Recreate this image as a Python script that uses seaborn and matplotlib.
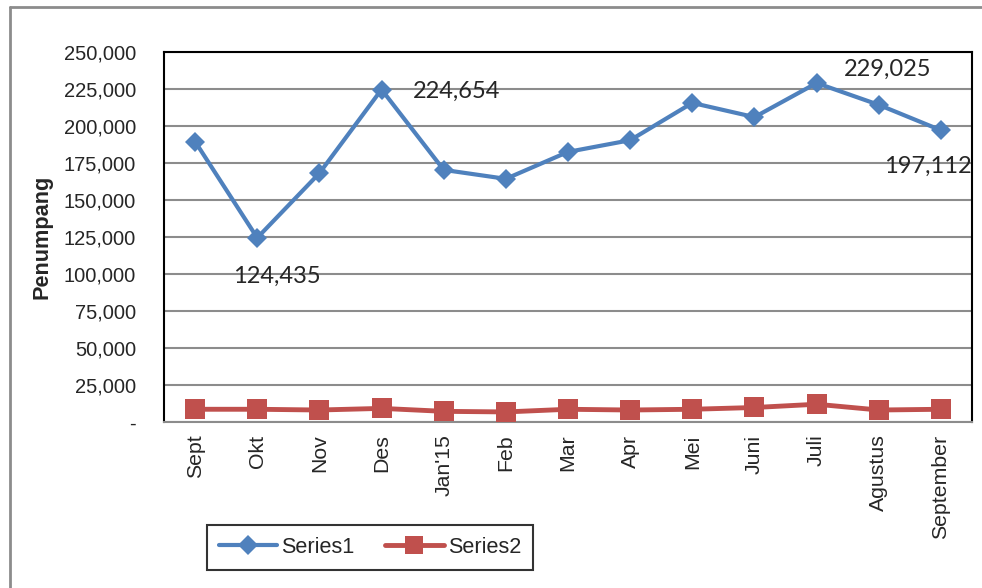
import numpy as np
import pandas as pd
import seaborn as sns
import matplotlib.pyplot as plt
from matplotlib.lines import Line2D
from matplotlib.ticker import FuncFormatter

# data
months = ["Sept", "Okt", "Nov", "Des", "Jan'15", "Feb", "Mar", "Apr",
          "Mei", "Juni", "Juli", "Agustus", "September"]
series1 = [189500, 124435, 168100, 224654, 170350, 164300, 182500,
           190400, 215600, 206000, 229025, 214300, 197112]
series2 = [8600, 8600, 8100, 9200, 7200, 6800, 8600, 8100, 8600,
           9800, 12000, 8100, 8600]
labelled = {"Okt": (20, -39, "center"), "Des": (31, -2, "left"),
            "Juli": (71, 14, "center"), "September": (-13, -36, "center")}

blue = "#4F81BD"
red = "#C0504D"

sns.set_style("white")
plt.rcParams["font.family"] = ["Liberation Sans", "DejaVu Sans"]

df = pd.DataFrame({"pos": np.arange(len(months)), "Bulan": months,
                   "Series1": series1, "Series2": series2})

fig = plt.figure(figsize=(9.82, 5.88), dpi=100)
ax = fig.add_axes([164 / 982, 1 - 422 / 588, 808 / 982, 370 / 588])

sns.lineplot(data=df, x="pos", y="Series1", ax=ax, color=blue, lw=3,
             marker="D", markersize=10, markeredgewidth=0, zorder=4)
sns.lineplot(data=df, x="pos", y="Series2", ax=ax, color=red, lw=3.5,
             marker="s", markersize=15, markeredgewidth=0, zorder=4)

ax.set_xlim(-0.5, len(months) - 0.5)
ax.set_ylim(0, 250000)
ax.set_yticks(np.arange(0, 250001, 25000))
ax.yaxis.set_major_formatter(FuncFormatter(lambda v, p: "-" if v == 0 else f"{int(v):,}"))
ax.tick_params(axis="y", length=0, pad=20, labelsize=14.5)
ax.grid(axis="y", color="#8c8c8c", lw=1.5)
ax.set_axisbelow(True)

# ticks between categories, labels in the middle
ax.set_xticks(np.arange(-0.5, len(months), 1.0))
ax.set_xticklabels([])
ax.set_xticks(np.arange(len(months)), minor=True)
ax.set_xticklabels(months, minor=True, rotation=90, fontsize=15.3)
ax.tick_params(axis="x", which="major", length=7, width=1.5, color="#8c8c8c", direction="out")
ax.tick_params(axis="x", which="minor", length=0, pad=9)

for side in ["left", "top", "right"]:
    ax.spines[side].set_color("black")
    ax.spines[side].set_linewidth(1.5)
ax.spines["bottom"].set_color("#8c8c8c")
ax.spines["bottom"].set_linewidth(1.5)

ax.set_xlabel("")
ax.set_ylabel("Penumpang", fontsize=15.6, fontweight="bold", labelpad=8)

for i, m in enumerate(months):
    if m in labelled:
        dx, dy, ha = labelled[m]
        ax.annotate(f"{series1[i]:,}", (i, series1[i]), xytext=(dx, dy),
                    textcoords="offset pixels", ha=ha, va="center",
                    fontsize=17, family=["Lato", "DejaVu Sans"])

handles = [Line2D([], [], color=blue, lw=3, marker="D", markersize=10, markeredgewidth=0),
           Line2D([], [], color=red, lw=3.5, marker="s", markersize=13, markeredgewidth=0)]
leg = fig.legend(handles, ["Series1", "Series2"], loc="center",
                 bbox_to_anchor=(370 / 982, 1 - 547.5 / 588), ncol=2, fontsize=15.6,
                 frameon=True, fancybox=False, handlelength=2.7, handletextpad=0.2,
                 columnspacing=1.4, borderpad=0.55, borderaxespad=0)
leg.get_frame().set_edgecolor("black")
leg.get_frame().set_linewidth(1.5)

# outer chart border (left and top visible)
fig.add_artist(Line2D([10 / 982, 10 / 982], [0, 1 - 7 / 588], color="#8c8c8c", lw=2))
fig.add_artist(Line2D([10 / 982, 1], [1 - 7 / 588, 1 - 7 / 588], color="#8c8c8c", lw=2))

fig.savefig("out.png", dpi=100)
